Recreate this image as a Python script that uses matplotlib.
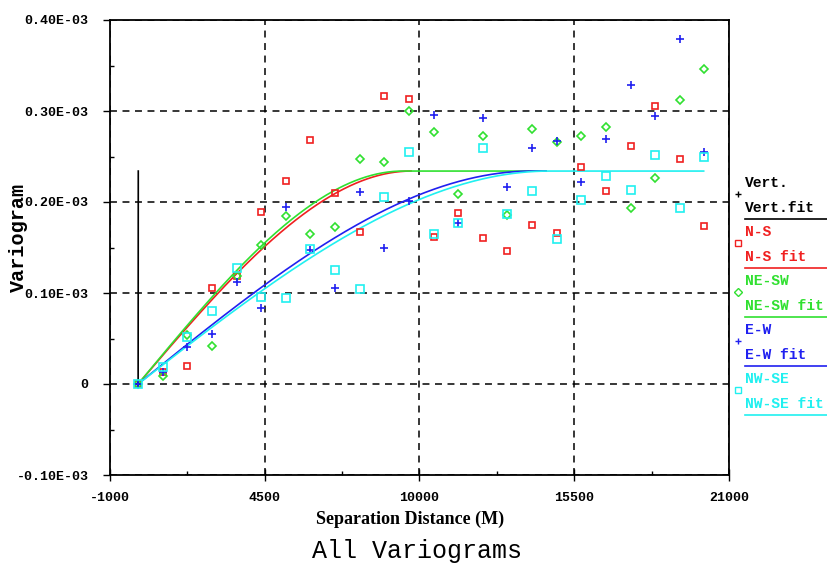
import numpy as np
import matplotlib
matplotlib.use("Agg")
import matplotlib.pyplot as plt
from matplotlib.lines import Line2D
from matplotlib.ticker import FixedLocator

plt.rcParams['lines.scale_dashes'] = False

# lag distances (m), one column of points per lag
lags = [0, 875, 1750, 2625, 3500, 4375, 5250, 6125, 7000, 7875, 8750, 9625,
        10500, 11375, 12250, 13125, 14000, 14875, 15750, 16625, 17500,
        18375, 19250, 20125]

# experimental variograms, in units of 1E-04
ns = [0, 0.13, 0.20, 1.05, 1.19, 1.89, 2.23, 2.68, 2.10, 1.67, 3.17, 3.13,
      1.61, 1.88, 1.60, 1.46, 1.75, 1.66, 2.38, 2.12, 2.62, 3.06, 2.47, 1.74]
ne_sw = [0, 0.09, 0.54, 0.42, 1.19, 1.53, 1.85, 1.65, 1.73, 2.47, 2.44, 3.00,
         2.77, 2.09, 2.72, 1.86, 2.80, 2.66, 2.73, 2.82, 1.93, 2.26, 3.12, 3.46]
ew = [0, 0.135, 0.41, 0.55, 1.12, 0.84, 1.94, 1.47, 1.06, 2.11, 1.49, 2.01,
      2.96, 1.77, 2.92, 2.17, 2.59, 2.67, 2.22, 2.69, 3.29, 2.94, 3.79, 2.55]
nw_se = [0, 0.19, 0.52, 0.80, 1.28, 0.96, 0.95, 1.48, 1.25, 1.04, 2.06, 2.55,
         1.65, 1.77, 2.59, 1.87, 2.12, 1.59, 2.02, 2.29, 2.13, 2.52, 1.93, 2.49]
vert_lags = [0]
vert = [0]

# spherical model fits: sill (1E-04), range (m), drawn up to max distance (m)
sill = 2.34
fit_range = {'Vert.': 5, 'N-S': 9700, 'NE-SW': 9400, 'E-W': 14000, 'NW-SE': 14600}
fit_max = {'Vert.': 5, 'N-S': 9700, 'NE-SW': 14500, 'E-W': 14500, 'NW-SE': 20100}

names = ['Vert.', 'N-S', 'NE-SW', 'E-W', 'NW-SE']
colors = ['#000000', '#f02020', '#30e030', '#2020f0', '#20f0f0']
markers = ['+', 's', 'D', '+', 's']
msizes = [6, 5, 4, 6, 5.5]
xs = [vert_lags, lags, lags, lags, lags]
ys = [vert, ns, ne_sw, ew, nw_se]


def spherical(h, c, a):
    t = np.minimum(h / a, 1.0)
    return c * (1.5 * t - 0.5 * t ** 3)


W, H = 827, 565
fig = plt.figure(figsize=(W / 100, H / 100), dpi=100)
ax = fig.add_axes([110 / W, 90 / H, 619 / W, 455 / H])

tick_font = dict(family='Liberation Mono', weight='bold', size=9.5)

for name, col, mk, ms, x, y in zip(names, colors, markers, msizes, xs, ys):
    h = np.linspace(0, fit_max[name], 300)
    ax.plot(h, spherical(h, sill, fit_range[name]) * 1e-4, color=col, lw=1.2, zorder=3)
    ax.plot(x, np.array(y) * 1e-4, linestyle='none', marker=mk, ms=ms,
            mfc='none', mec=col, mew=1.2, zorder=4)

ax.set_xlim(-1000, 21000)
ax.set_ylim(-1e-4, 4e-4)
xt = [-1000, 4500, 10000, 15500, 21000]
yt = [-1e-4, 0, 1e-4, 2e-4, 3e-4, 4e-4]
ax.set_xticks(xt)
ax.set_xticklabels([str(v) for v in xt], **tick_font)
ax.set_yticks(yt)
ax.set_yticklabels(['-0.10E-03', '0', '0.10E-03', '0.20E-03', '0.30E-03', '0.40E-03'],
                   **tick_font)
ax.xaxis.set_minor_locator(FixedLocator([1750, 7250, 12750, 18250]))
ax.yaxis.set_minor_locator(FixedLocator([-0.5e-4, 0.5e-4, 1.5e-4, 2.5e-4, 3.5e-4]))
ax.tick_params(axis='x', which='major', direction='inout', length=8, width=1, pad=8)
ax.tick_params(axis='y', which='major', direction='out', length=5, width=1, pad=10.5)
ax.tick_params(which='minor', direction='in', length=3, width=1)
ax.grid(True, which='major', color='black', lw=1.1, dashes=(5, 4))
ax.set_axisbelow(True)
for s in ax.spines.values():
    s.set_color('black')
    s.set_linewidth(1.3)

fig.text(410 / W, 1 - 519 / H, 'Separation Distance (M)', ha='center', va='center',
         family='Liberation Serif', weight='bold', size=13)
fig.text(18 / W, 1 - 237 / H, 'Variogram', ha='center', va='center', rotation=90,
         family='Liberation Mono', weight='bold', size=14.5)
fig.text(417 / W, 1 - 551 / H, 'All Variograms', ha='center', va='center',
         family='Liberation Mono', size=18)

# legend on the right
leg_font = dict(family='Liberation Mono', weight='bold', size=10.5)
for i, (name, col, mk) in enumerate(zip(names, colors, markers)):
    y0 = 183 + 49 * i
    fig.text(745 / W, 1 - y0 / H, name, color=col, va='center', **leg_font)
    fig.add_artist(Line2D([738 / W], [1 - (y0 + 11) / H], marker=mk, ms=4,
                          mfc='none', mec=col, mew=1, linestyle='none'))
    fig.text(745 / W, 1 - (y0 + 25) / H, name + 'fit' if name == 'Vert.' else name + ' fit',
             color=col, va='center', **leg_font)
    fig.add_artist(Line2D([745 / W, 827 / W], [1 - (y0 + 36) / H] * 2, color=col, lw=1.2))

fig.savefig('out.png', dpi=100)
